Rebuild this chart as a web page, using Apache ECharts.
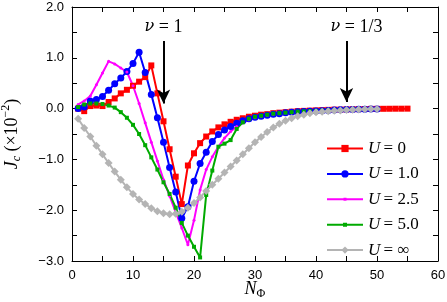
<!DOCTYPE html>
<html>
<head>
<meta charset="utf-8">
<script src="https://cdn.jsdelivr.net/npm/echarts@6/dist/echarts.min.js"></script>
<style>html,body{margin:0;padding:0;background:#fff;}#c{width:447px;height:302px;}</style>
</head>
<body>
<div id="c"></div>
<script>
const nPhi = [1,2,3,4,5,6,7,8,9,10,11,12,13,14,15,16,17,18,19,20,21,22,23,24,25,26,27,28,29,30,31,32,33,34,35,36,37,38,39,40,41,42,43,44,45,46,47,48,49,50,51,52,53,54,55];

const jU0 = [0.0,-0.05,0.05,0.06,0.05,0.13,0.2,0.3,0.37,0.45,0.53,0.62,0.85,0.3,-0.25,-0.8,-1.34,-1.88,-1.12,-0.88,-0.68,-0.55,-0.45,-0.37,-0.31,-0.26,-0.22,-0.19,-0.16,-0.14,-0.12,-0.11,-0.09,-0.08,-0.07,-0.06,-0.05,-0.045,-0.04,-0.035,-0.03,-0.025,-0.02,-0.02,-0.015,-0.012,-0.01,-0.008,-0.006,-0.005,-0.004,-0.003,-0.002,-0.002,-0.001];
const jU1 = [0.0,0.03,0.15,0.18,0.24,0.36,0.49,0.6,0.73,0.89,1.11,0.71,0.28,-0.18,-0.66,-1.16,-1.64,-2.16,-1.93,-1.43,-1.08,-0.86,-0.65,-0.51,-0.42,-0.35,-0.29,-0.24,-0.2,-0.17,-0.15,-0.13,-0.11,-0.1,-0.08,-0.07,-0.06,-0.055,-0.05,-0.045,-0.04,-0.035,-0.03,-0.025,-0.02,-0.018,-0.015,-0.012,-0.01,-0.01];
const jU25 = [0.08,0.15,0.25,0.47,0.7,0.93,0.88,0.8,0.72,0.45,0.1,-0.28,-0.66,-1.03,-1.4,-1.72,-2.04,-2.35,-2.68,-2.2,-1.6,-1.2,-0.95,-0.75,-0.58,-0.45,-0.35,-0.28,-0.22,-0.18,-0.15,-0.13,-0.11,-0.1,-0.08,-0.07,-0.06,-0.055,-0.05,-0.045,-0.04,-0.035,-0.03,-0.025,-0.02,-0.018,-0.015,-0.012,-0.01,-0.01];
const jU5 = [0.03,0.08,0.1,0.1,0.09,0.06,0.02,-0.07,-0.18,-0.32,-0.5,-0.72,-0.96,-1.2,-1.45,-1.68,-1.95,-2.25,-2.5,-2.72,-2.93,-1.7,-1.22,-0.75,-0.69,-0.62,-0.4,-0.27,-0.2,-0.16,-0.14,-0.12,-0.1,-0.09,-0.08,-0.07,-0.06,-0.055,-0.05,-0.045,-0.04,-0.035,-0.03,-0.025,-0.02,-0.018,-0.015,-0.012,-0.01,-0.01];
const jUinf = [-0.2,-0.38,-0.55,-0.73,-0.9,-1.07,-1.24,-1.4,-1.55,-1.68,-1.79,-1.88,-1.96,-2.02,-2.06,-2.08,-2.07,-2.03,-1.95,-1.86,-1.75,-1.62,-1.5,-1.38,-1.26,-1.14,-1.02,-0.9,-0.78,-0.66,-0.56,-0.46,-0.37,-0.3,-0.24,-0.19,-0.15,-0.12,-0.09,-0.07,-0.06,-0.05,-0.04,-0.035,-0.03,-0.025,-0.02,-0.015,-0.01,-0.01];

const seriesNames = ['U = 0','U = 1.0','U = 2.5','U = 5.0','U = ∞'];
const legendLabels = ['{i|U} {n|= 0}','{i|U} {n|= 1.0}','{i|U} {n|= 2.5}','{i|U} {n|= 5.0}','{i|U} {n|= ∞}'];

const arrowN = [15, 45];
const arrowTop = [1.33, 1.33];
const arrowTip = [0.1, 0.13];
const arrowText = ['{g|ν}{n| = 1}', '{w|}{g|ν}{n| = 1/3}'];

function pairs(vals){ return vals.map((v,i)=>[nPhi[i], v]); }

const serif = 'Liberation Serif';
const richT = {
  g:{fontFamily:'DejaVu Serif', fontStyle:'italic', fontSize:16, color:'#000'},
  n:{fontFamily:serif, fontSize:18, color:'#000'},
  w:{width:20}
};

// legend icons: line + small marker (box 36 x 9)
const smallIcon = (s) => {
  const a = 18 - s/2, b = 18 + s/2, t = 4.5 - s/2, u = 4.5 + s/2;
  return 'path://M0 0 L0 0 Z M36 9 L36 9 Z M0 3.5 L36 3.5 L36 5.5 L0 5.5 Z M' + a + ' ' + t + ' L' + b + ' ' + t + ' L' + b + ' ' + u + ' L' + a + ' ' + u + ' Z';
};

const chart = echarts.init(document.getElementById('c'), null, {renderer:'canvas'});
const axisCommon = {
  axisLine:{show:true, onZero:false, lineStyle:{color:'#000', width:1}},
  axisTick:{show:true, inside:true, length:5, lineStyle:{color:'#000'}},
  minorTick:{show:true, splitNumber:2, length:5, lineStyle:{color:'#000'}},
  splitLine:{show:false}
};
const mk = (name, data, color, symbol, size, extra) => Object.assign({
  name, type:'line', data:pairs(data), symbol, symbolSize:size,
  lineStyle:{color, width:2}, itemStyle:{color}, showSymbol:true,
  animation:false
}, extra||{});

const option = {
  animation:false,
  grid:{left:72, right:9, top:7, bottom:41, containLabel:false, outerBoundsMode:'none'},
  legend:{
    orient:'vertical', left:326, top:140, padding:0, itemWidth:36, itemHeight:9, itemGap:8.4,
    data:[
      {name:seriesNames[0]},
      {name:seriesNames[1]},
      {name:seriesNames[2], icon:smallIcon(3)},
      {name:seriesNames[3], icon:smallIcon(4)},
      {name:seriesNames[4]}
    ],
    formatter: n => legendLabels[seriesNames.indexOf(n)],
    textStyle:{color:'#000', rich:{i:{fontFamily:serif, fontStyle:'italic', fontSize:17, color:'#000'}, n:{fontFamily:serif, fontSize:17, color:'#000'}}}
  },
  xAxis:[
    Object.assign({type:'value', min:0, max:60, interval:10, position:'bottom',
      axisLabel:{fontFamily:'Liberation Sans', fontSize:13, color:'#000', margin:8},
      name:'{i|N}{s|Φ}', nameLocation:'middle', nameGap:17, nameMoveOverlap:false,
      nameTextStyle:{rich:{i:{fontFamily:serif, fontStyle:'italic', fontSize:18, color:'#000'}, s:{fontFamily:serif, fontSize:12, color:'#000', padding:[10,0,0,0]}}}
    }, axisCommon),
    Object.assign({type:'value', min:0, max:60, interval:10, position:'top', axisLabel:{show:false}}, axisCommon)
  ],
  yAxis:[
    Object.assign({type:'value', min:-3, max:2, interval:1, position:'left',
      axisLabel:{fontFamily:'Liberation Sans', fontSize:13, color:'#000', margin:8,
        formatter: v => v.toFixed(1).replace('-', '\u2212')},
      name:'{i|J}{s|c}{n| (×10}{p|−2}{n|)}', nameLocation:'middle', nameGap:48, nameRotate:90, nameMoveOverlap:false,
      nameTextStyle:{rich:{
        i:{fontFamily:serif, fontStyle:'italic', fontSize:18, color:'#000'},
        s:{fontFamily:serif, fontStyle:'italic', fontSize:12, color:'#000', padding:[10,0,0,0]},
        n:{fontFamily:serif, fontSize:18, color:'#000'},
        p:{fontFamily:serif, fontSize:12, color:'#000', padding:[0,0,12,0]}
      }}
    }, axisCommon),
    Object.assign({type:'value', min:-3, max:2, interval:1, position:'right', axisLabel:{show:false}}, axisCommon)
  ],
  series:[
    mk(seriesNames[0], jU0, '#ff0000', 'rect', 6, {
      markLine:{
        silent:true, animation:false,
        lineStyle:{color:'#000', width:2, type:'solid'},
        symbol:['none','arrow'], symbolSize:[10,14],
        label:{show:true, position:'start', distance:5, formatter: p => arrowText[p.dataIndex], rich:richT},
        data: arrowN.map((n,k)=>[{coord:[n, arrowTop[k]]},{coord:[n, arrowTip[k]]}])
      }
    }),
    mk(seriesNames[1], jU1, '#0000ff', 'circle', 7),
    mk(seriesNames[2], jU25, '#ff00ff', 'circle', 3),
    mk(seriesNames[3], jU5, '#00aa00', 'rect', 4),
    mk(seriesNames[4], jUinf, '#b4b4b4', 'diamond', 8)
  ]
};
chart.setOption(option);
</script>
</body>
</html>
